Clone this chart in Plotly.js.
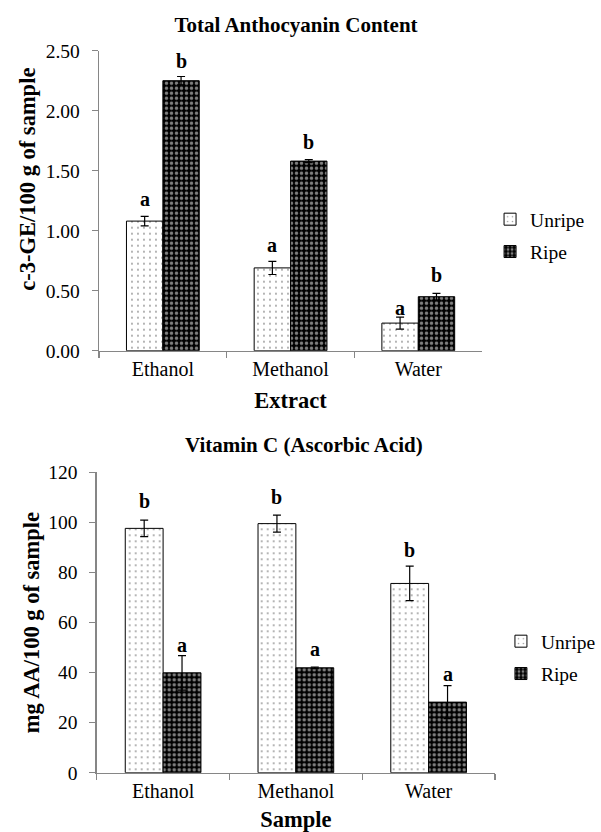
<!DOCTYPE html>
<html>
<head>
<meta charset="utf-8">
<script src="https://cdn.plot.ly/plotly-3.0.1.min.js"></script>
<style>
  html, body { margin: 0; padding: 0; background: #ffffff; }
  #chart { width: 601px; height: 832px; }
</style>
</head>
<body>
<div id="chart"></div>
<script>
// ---------------- data ----------------
const categories = ['Ethanol', 'Methanol', 'Water'];
const seriesNames = ['Unripe', 'Ripe'];

// Total Anthocyanin Content (c-3-GE/100 g of sample)
const tacUnripe    = [1.08, 0.69, 0.23];
const tacUnripeErr = [0.04, 0.055, 0.05];
const tacRipe      = [2.25, 1.58, 0.45];
const tacRipeErr   = [0.035, 0.013, 0.028];
const tacUnripeLetters = ['a', 'a', 'a'];
const tacRipeLetters   = ['b', 'b', 'b'];

// Vitamin C (mg AA/100 g of sample)
const vitcUnripe    = [97.6, 99.5, 75.6];
const vitcUnripeErr = [3.3, 3.4, 6.9];
const vitcRipe      = [39.9, 41.9, 28.2];
const vitcRipeErr   = [6.9, 0.3, 6.6];
const vitcUnripeLetters = ['b', 'b', 'b'];
const vitcRipeLetters   = ['a', 'a', 'a'];

// ---------------- styling ----------------
const W = 601, H = 832;
const px = v => v / W;
const py = v => 1 - v / H;
const FONT = 'Liberation Serif, Times New Roman, serif';
const AXIS_GREY = '#868686';
const BARGAP = 0.43;
const OFF = (1 - BARGAP) / 4;   // bar centre offset in category units

// letter lift above error-bar top, in px (style only)
const tacLiftU = [17, 16, 9];
const tacLiftR = [15, 18, 18];
const vitLiftU = [19, 18, 16];
const vitLiftR = [11, 18, 12];

const unripeMarker = {
  color: 'white',
  line: { color: 'black', width: 1 },
  pattern: { shape: '.', fgcolor: '#333333', size: 6, solidity: 0.08, fillmode: 'overlay' }
};
const ripeMarker = {
  color: 'black',
  line: { color: 'black', width: 1 },
  pattern: { shape: '.', fgcolor: 'white', size: 5, solidity: 0.38, fillmode: 'overlay' }
};
const errStyle = (arr) => ({ type: 'data', array: arr, visible: true, color: 'black', thickness: 1.2, width: 4 });

const traces = [
  { type: 'bar', name: seriesNames[0], x: categories, y: tacUnripe, xaxis: 'x', yaxis: 'y',
    legend: 'legend', legendgroup: 'g1', marker: unripeMarker, error_y: errStyle(tacUnripeErr), hoverinfo: 'y' },
  { type: 'bar', name: seriesNames[1], x: categories, y: tacRipe, xaxis: 'x', yaxis: 'y',
    legend: 'legend', legendgroup: 'g2', marker: ripeMarker, error_y: errStyle(tacRipeErr), hoverinfo: 'y' },
  { type: 'bar', name: seriesNames[0], x: categories, y: vitcUnripe, xaxis: 'x2', yaxis: 'y2',
    legend: 'legend2', legendgroup: 'g3', marker: unripeMarker, error_y: errStyle(vitcUnripeErr), hoverinfo: 'y' },
  { type: 'bar', name: seriesNames[1], x: categories, y: vitcRipe, xaxis: 'x2', yaxis: 'y2',
    legend: 'legend2', legendgroup: 'g4', marker: ripeMarker, error_y: errStyle(vitcRipeErr), hoverinfo: 'y' }
];

// significance letters
const annotations = [];
function addLetters(vals, errs, letters, lifts, side, xref, yref) {
  vals.forEach((v, i) => {
    annotations.push({
      xref: xref, yref: yref, x: i + side * OFF, y: v + errs[i],
      text: '<b>' + letters[i] + '</b>', showarrow: false,
      xanchor: 'center', yanchor: 'middle', yshift: lifts[i],
      font: { family: FONT, size: 20, color: 'black' }
    });
  });
}
addLetters(tacUnripe, tacUnripeErr, tacUnripeLetters, tacLiftU, -1, 'x', 'y');
addLetters(tacRipe, tacRipeErr, tacRipeLetters, tacLiftR, 1, 'x', 'y');
addLetters(vitcUnripe, vitcUnripeErr, vitcUnripeLetters, vitLiftU, -1, 'x2', 'y2');
addLetters(vitcRipe, vitcRipeErr, vitcRipeLetters, vitLiftR, 1, 'x2', 'y2');

// y-axis titles & second chart title
annotations.push({
  xref: 'paper', yref: 'paper', x: px(27), y: py(179), xanchor: 'center', yanchor: 'middle',
  textangle: -90, showarrow: false, text: '<b>c-3-GE/100 g of sample</b>',
  font: { family: FONT, size: 22.5, color: 'black' }
});
annotations.push({
  xref: 'paper', yref: 'paper', x: px(32), y: py(622.5), xanchor: 'center', yanchor: 'middle',
  textangle: -90, showarrow: false, text: '<b>mg AA/100 g of sample</b>',
  font: { family: FONT, size: 22.5, color: 'black' }
});
annotations.push({
  xref: 'paper', yref: 'paper', x: px(307), y: py(445), xanchor: 'center', yanchor: 'middle',
  showarrow: false, text: '<b>Vitamin C (Ascorbic Acid)</b>',
  font: { family: FONT, size: 21, color: 'black' }
});

function xAxis(domain, anchor, title) {
  return {
    domain: domain, anchor: anchor, type: 'category', showgrid: false, zeroline: false,
    showline: true, linecolor: AXIS_GREY, linewidth: 1.3,
    ticks: 'outside', tickson: 'boundaries', ticklen: 6, tickcolor: AXIS_GREY, tickwidth: 1.3,
    tickfont: { family: FONT, size: 20, color: 'black' },
    title: { text: '<b>' + title + '</b>', font: { family: FONT, size: 22.5, color: 'black' }, standoff: 13 },
    automargin: false, fixedrange: true
  };
}
function yAxis(domain, anchor, range, dtick, fmt) {
  return {
    domain: domain, anchor: anchor, range: range, dtick: dtick, tick0: 0, tickformat: fmt,
    showgrid: false, zeroline: false, showline: true, linecolor: AXIS_GREY, linewidth: 1.3,
    ticks: 'outside', ticklen: 6, tickcolor: AXIS_GREY, tickwidth: 1.3, ticklabelstandoff: 8,
    tickfont: { family: FONT, size: 19.5, color: 'black' },
    automargin: false, fixedrange: true
  };
}

const layout = {
  width: W, height: H,
  margin: { l: 0, r: 0, t: 0, b: 0, pad: 0 },
  paper_bgcolor: 'white', plot_bgcolor: 'white',
  font: { family: FONT, color: 'black' },
  title: {
    text: '<b>Total Anthocyanin Content</b>', x: px(299), xanchor: 'center',
    y: py(25), yanchor: 'middle', xref: 'paper', yref: 'container',
    font: { family: FONT, size: 21, color: 'black' }
  },
  barmode: 'group', bargap: BARGAP, bargroupgap: 0,
  xaxis: xAxis([px(100), px(487)], 'y', 'Extract'),
  yaxis: yAxis([py(350.7), py(50.7)], 'x', [0, 2.5], 0.5, '.2f'),
  xaxis2: xAxis([px(97.7), px(500)], 'y2', 'Sample'),
  yaxis2: yAxis([py(772.7), py(472.3)], 'x2', [0, 120], 20, 'd'),
  legend: {
    x: px(495), xanchor: 'left', y: py(200), yanchor: 'top',
    font: { family: FONT, size: 19.5, color: 'black' }, tracegroupgap: 4,
    bgcolor: 'rgba(0,0,0,0)', borderwidth: 0
  },
  legend2: {
    x: px(506), xanchor: 'left', y: py(622), yanchor: 'top',
    font: { family: FONT, size: 19.5, color: 'black' }, tracegroupgap: 4,
    bgcolor: 'rgba(0,0,0,0)', borderwidth: 0
  },
  showlegend: true,
  annotations: annotations
};

Plotly.newPlot('chart', traces, layout, { displayModeBar: false, staticPlot: true });
</script>
</body>
</html>
